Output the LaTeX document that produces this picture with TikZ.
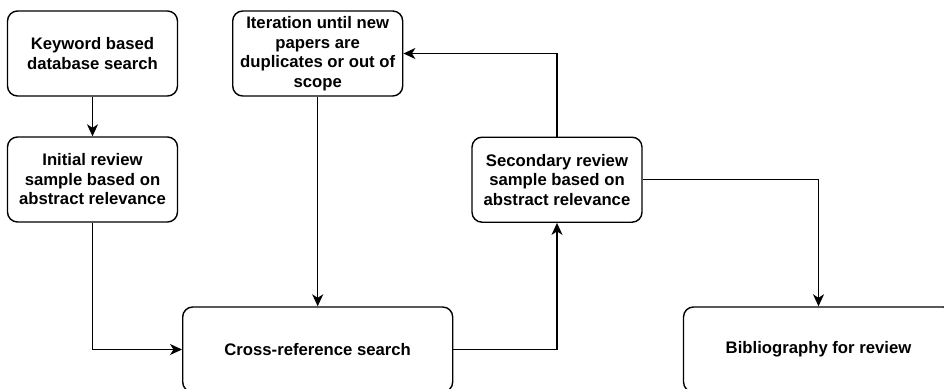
\documentclass[tikz,border=0pt]{standalone}
\usepackage{fontspec}
\setmainfont{Liberation Sans}
\usetikzlibrary{arrows.meta}

\begin{document}
\begin{tikzpicture}[x=1pt,y=-1pt,
  stage/.style={draw,line width=1.4pt,rounded corners=10pt,align=center,
    font=\fontsize{16.7}{19.5}\selectfont\bfseries,inner sep=0pt},
  small/.style={stage,minimum width=170pt,minimum height=85pt},
  wide/.style={stage,minimum width=270pt,minimum height=85pt},
  flow/.style={line width=1.4pt,-{Stealth[length=12pt,width=11pt,inset=3.5pt]}}]
  \useasboundingbox (0,0) rectangle (944,388);
  \node[small] (keyword) at (92.5,53.5) {Keyword based\\database search};
  \node[small] (initial) at (92.5,179.5) {Initial review\\sample based on\\abstract relevance};
  \node[small] (iterate) at (317.7,53.5) {Iteration until new\\papers are\\duplicates or out of\\scope};
  \node[small] (second) at (557,179.7) {Secondary review\\sample based on\\abstract relevance};
  \node[wide] (crossref) at (317.7,349.5) {Cross-reference search};
  \node[wide] (biblio) at (818.5,349.5) {Bibliography for review};

  \draw[flow] (keyword) -- (initial);
  \draw[flow] (initial.south) |- (crossref.west);
  \draw[flow] (iterate) -- (crossref);
  \draw[flow] (crossref.east) -| (second.south);
  \draw[flow] (second.north) |- (iterate.east);
  \draw[flow] (second.east) -| (biblio.north);
\end{tikzpicture}
\end{document}
